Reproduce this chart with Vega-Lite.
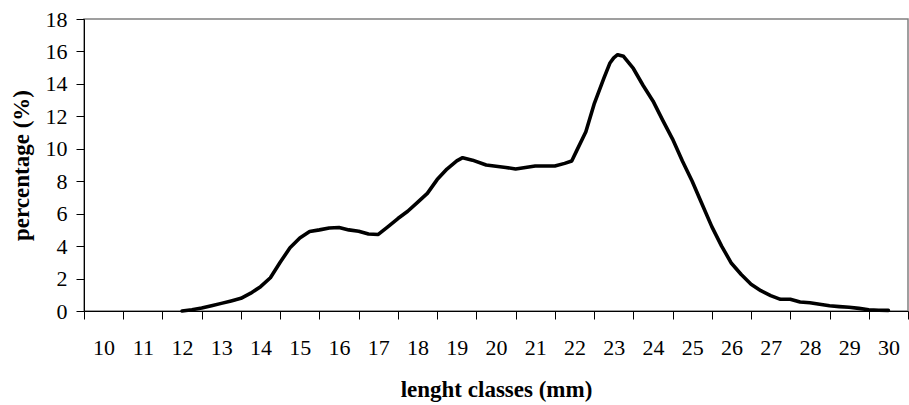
{
  "$schema": "https://vega.github.io/schema/vega-lite/v6.json",
  "width": 824,
  "height": 292,
  "autosize": {"type": "none"},
  "padding": {"left": 84, "top": 19, "right": 1, "bottom": 94},
  "background": "white",
  "config": {
    "view": {"stroke": "#808080", "strokeWidth": 1.5},
    "axis": {"grid": false, "domainColor": "black", "tickColor": "black", "labelColor": "black", "titleColor": "black", "labelFont": "Liberation Serif", "titleFont": "Liberation Serif"}
  },
  "data": {"values": [
    {"length": 12.0, "pct": 0},
    {"length": 12.25, "pct": 0.08},
    {"length": 12.5, "pct": 0.18},
    {"length": 12.75, "pct": 0.32},
    {"length": 13.0, "pct": 0.47},
    {"length": 13.25, "pct": 0.62},
    {"length": 13.5, "pct": 0.78},
    {"length": 13.75, "pct": 1.1},
    {"length": 14.0, "pct": 1.5},
    {"length": 14.25, "pct": 2.05},
    {"length": 14.5, "pct": 3.0},
    {"length": 14.75, "pct": 3.9},
    {"length": 15.0, "pct": 4.5},
    {"length": 15.25, "pct": 4.9},
    {"length": 15.5, "pct": 5.0},
    {"length": 15.75, "pct": 5.12},
    {"length": 16.0, "pct": 5.15},
    {"length": 16.25, "pct": 5.0},
    {"length": 16.5, "pct": 4.92},
    {"length": 16.75, "pct": 4.75},
    {"length": 17.0, "pct": 4.72},
    {"length": 17.25, "pct": 5.2},
    {"length": 17.5, "pct": 5.7},
    {"length": 17.75, "pct": 6.15},
    {"length": 18.0, "pct": 6.7},
    {"length": 18.25, "pct": 7.25},
    {"length": 18.5, "pct": 8.1},
    {"length": 18.75, "pct": 8.75},
    {"length": 19.0, "pct": 9.25},
    {"length": 19.15, "pct": 9.45},
    {"length": 19.4, "pct": 9.3},
    {"length": 19.75, "pct": 9.0},
    {"length": 20.0, "pct": 8.92},
    {"length": 20.25, "pct": 8.85},
    {"length": 20.5, "pct": 8.75},
    {"length": 20.75, "pct": 8.85},
    {"length": 21.0, "pct": 8.94},
    {"length": 21.25, "pct": 8.94},
    {"length": 21.5, "pct": 8.94},
    {"length": 21.75, "pct": 9.1},
    {"length": 21.93, "pct": 9.25},
    {"length": 22.06, "pct": 9.9},
    {"length": 22.29, "pct": 11.05},
    {"length": 22.5, "pct": 12.75},
    {"length": 22.75, "pct": 14.35},
    {"length": 22.9, "pct": 15.27},
    {"length": 23.0, "pct": 15.6},
    {"length": 23.1, "pct": 15.8},
    {"length": 23.25, "pct": 15.7},
    {"length": 23.5, "pct": 14.95},
    {"length": 23.75, "pct": 13.9},
    {"length": 24.0, "pct": 12.95},
    {"length": 24.25, "pct": 11.75},
    {"length": 24.5, "pct": 10.6},
    {"length": 24.75, "pct": 9.25},
    {"length": 25.0, "pct": 8.0},
    {"length": 25.25, "pct": 6.6},
    {"length": 25.5, "pct": 5.2},
    {"length": 25.75, "pct": 4.0},
    {"length": 26.0, "pct": 2.94},
    {"length": 26.25, "pct": 2.25},
    {"length": 26.5, "pct": 1.65},
    {"length": 26.75, "pct": 1.25},
    {"length": 27.0, "pct": 0.95},
    {"length": 27.25, "pct": 0.72},
    {"length": 27.5, "pct": 0.72},
    {"length": 27.75, "pct": 0.55},
    {"length": 28.0, "pct": 0.51},
    {"length": 28.25, "pct": 0.42},
    {"length": 28.5, "pct": 0.32},
    {"length": 28.75, "pct": 0.27},
    {"length": 29.0, "pct": 0.23},
    {"length": 29.25, "pct": 0.16},
    {"length": 29.5, "pct": 0.08},
    {"length": 29.75, "pct": 0.05},
    {"length": 30.0, "pct": 0.04}
  ]},
  "mark": {"type": "line", "color": "black", "strokeWidth": 3.6, "strokeJoin": "round", "strokeCap": "round"},
  "encoding": {
    "x": {
      "field": "length", "type": "quantitative",
      "scale": {"domain": [9.5, 30.5], "nice": false, "zero": false},
      "axis": {
        "values": [9.5, 10.5, 11.5, 12.5, 13.5, 14.5, 15.5, 16.5, 17.5, 18.5, 19.5, 20.5, 21.5, 22.5, 23.5, 24.5, 25.5, 26.5, 27.5, 28.5, 29.5, 30.5],
        "labelExpr": "datum.value < 30 ? format(datum.value + 0.5, 'd') : ''",
        "labelOffset": 19.62,
        "labelOverlap": false,
        "labelBound": false,
        "labelFlush": false,
        "labelFontSize": 22,
        "labelPadding": 18,
        "tickSize": 8,
        "title": "lenght classes (mm)",
        "titleFontSize": 23,
        "titleFontWeight": "bold",
        "titlePadding": 20
      }
    },
    "y": {
      "field": "pct", "type": "quantitative",
      "scale": {"domain": [0, 18], "nice": false},
      "axis": {
        "values": [0, 2, 4, 6, 8, 10, 12, 14, 16, 18],
        "labelFontSize": 22,
        "labelPadding": 9,
        "tickSize": 8,
        "labelBound": false,
        "labelFlush": false,
        "labelOverlap": false,
        "title": "percentage (%)",
        "titleFontSize": 23,
        "titleFontWeight": "bold",
        "titlePadding": 12
      }
    }
  }
}
